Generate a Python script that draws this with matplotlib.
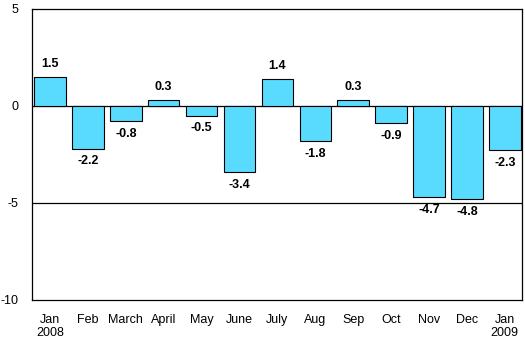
import matplotlib
matplotlib.use("Agg")
import matplotlib.pyplot as plt

months = ["Jan\n2008", "Feb", "March", "April", "May", "June", "July",
          "Aug", "Sep", "Oct", "Nov", "Dec", "Jan\n2009"]
values = [1.5, -2.2, -0.8, 0.3, -0.5, -3.4, 1.4, -1.8, 0.3, -0.9, -4.7, -4.8, -2.3]
yticks = [5, 0, -5, -10]

plt.rcParams["font.family"] = ["Liberation Sans", "DejaVu Sans"]

fig = plt.figure(figsize=(5.25, 3.4), dpi=100)
ax = fig.add_axes([0.061, 0.118, 0.933, 0.856])

x = range(len(values))
ax.bar(x, values, width=0.83, color="#59DBFF", edgecolor="black", linewidth=0.8, zorder=3)

for i, v in enumerate(values):
    if v >= 0:
        ax.text(i, v + 0.35, f"{v:.1f}", ha="center", va="bottom", fontsize=9, fontweight="bold")
    else:
        ax.text(i, v - 0.35, f"{v:.1f}", ha="center", va="top", fontsize=9, fontweight="bold")

for y in (0, -5):
    ax.axhline(y, color="black", linewidth=0.9, zorder=2)

ax.set_ylim(-10, 5)
ax.set_xlim(-0.475, len(values) - 0.55)
ax.set_yticks(yticks)
ax.set_yticklabels([str(t) for t in yticks], fontsize=9)
ax.set_xticks(list(x))
ax.set_xticklabels(months, fontsize=9, linespacing=1.1)
ax.tick_params(axis="x", length=0, pad=10)
ax.tick_params(axis="y", length=0, pad=10)
for s in ax.spines.values():
    s.set_linewidth(0.9)

fig.savefig("out.png", dpi=100)
